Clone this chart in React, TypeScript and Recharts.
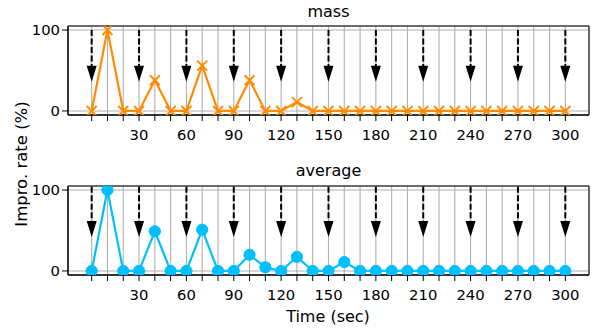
import React from 'react';
import {
  ComposedChart, Line, XAxis, YAxis, CartesianGrid, ReferenceLine, ReferenceDot, ReferenceArea,
} from 'recharts';

const times = [0, 10, 20, 30, 40, 50, 60, 70, 80, 90, 100, 110, 120, 130, 140, 150, 160, 170, 180, 190, 200, 210, 220, 230, 240, 250, 260, 270, 280, 290, 300];
const massValues = [0, 100, 0, 0, 38, 0, 0, 56, 0, 0, 38, 0, 0, 11, 0, 0, 0, 0, 0, 0, 0, 0, 0, 0, 0, 0, 0, 0, 0, 0, 0];
const averageValues = [0, 100, 0, 0, 49, 0, 0, 51, 0, 0, 20, 4.5, 0, 17.5, 0, 0, 11, 0, 0, 0, 0, 0, 0, 0, 0, 0, 0, 0, 0, 0, 0];
const arrowTimes = [0, 30, 60, 90, 120, 150, 180, 210, 240, 270, 300];
const labeledTicks = [30, 60, 90, 120, 150, 180, 210, 240, 270, 300];
const yTicks = [0, 100];
const panelTitles = ['mass', 'average'];
const xLabel = 'Time (sec)';
const yLabel = 'Impro. rate (%)';

const FONT = 'DejaVu Sans';
const ORANGE = '#ff8c00';
const BLUE = '#00bfff';
const GRID = '#b0b0b0';

const XDOMAIN: [number, number] = [-15, 315];
const YDOMAIN: [number, number] = [-5, 105];

const XMarker = (props: any) => {
  const { cx, cy } = props;
  if (cx == null || cy == null) return null;
  const s = 5;
  return (
    <g>
      <line x1={cx - s} y1={cy - s} x2={cx + s} y2={cy + s} stroke={ORANGE} strokeWidth={1.9} />
      <line x1={cx - s} y1={cy + s} x2={cx + s} y2={cy - s} stroke={ORANGE} strokeWidth={1.9} />
    </g>
  );
};

const CircleMarker = (props: any) => {
  const { cx, cy } = props;
  if (cx == null || cy == null) return null;
  return <circle cx={cx} cy={cy} r={5.6} fill={BLUE} stroke={BLUE} />;
};

const ArrowHead = (props: any) => {
  const { cx, cy } = props;
  if (cx == null || cy == null) return null;
  return <polygon points={`${cx - 5},${cy - 16} ${cx + 5},${cy - 16} ${cx},${cy}`} fill="#000" />;
};

const tickFmt = (v: number) => (labeledTicks.includes(v) ? String(v) : '');

function Panel({ values, kind, top, height, marginTop, marginBottom, arrowStart, arrowShaftEnd, arrowTip }: any) {
  const data = times.map((t, i) => ({ t, v: values[i] }));
  return (
    <div style={{ position: 'absolute', left: 0, top, width: 592, height }}>
      <ComposedChart width={592} height={height} data={data} margin={{ top: marginTop, right: 3, left: 0, bottom: marginBottom }}>
        <CartesianGrid stroke={GRID} strokeWidth={1.1} vertical horizontal />
        <XAxis
          dataKey="t"
          type="number"
          domain={XDOMAIN}
          ticks={times}
          tickFormatter={tickFmt}
          interval={0}
          height={30}
          tickSize={6}
          tickMargin={8}
          axisLine={{ stroke: '#000' }}
          tickLine={{ stroke: '#000' }}
          tick={{ fontSize: 14.8, fill: '#000', fontFamily: FONT }}
          allowDataOverflow
        />
        <YAxis
          type="number"
          domain={YDOMAIN}
          ticks={yTicks}
          width={68}
          tickSize={6}
          tickMargin={2}
          axisLine={{ stroke: '#000' }}
          tickLine={{ stroke: '#000' }}
          tick={{ fontSize: 14.8, fill: '#000', fontFamily: FONT }}
          allowDataOverflow
        />
        {arrowTimes.map((t) => (
          <ReferenceLine
            key={'s' + t}
            segment={[{ x: t, y: arrowStart }, { x: t, y: arrowShaftEnd }]}
            stroke="#000"
            strokeWidth={2}
            strokeDasharray="6 2.5"
            ifOverflow="visible"
          />
        ))}
        {arrowTimes.map((t) => (
          <ReferenceDot key={'h' + t} x={t} y={arrowTip} r={0} shape={ArrowHead} ifOverflow="visible" />
        ))}
        <Line
          dataKey="v"
          stroke={kind === 'x' ? ORANGE : BLUE}
          strokeWidth={2.2}
          dot={kind === 'x' ? <XMarker /> : <CircleMarker />}
          activeDot={false}
          isAnimationActive={false}
        />
        <ReferenceArea x1={XDOMAIN[0]} x2={XDOMAIN[1]} y1={YDOMAIN[0]} y2={YDOMAIN[1]} fill="none" fillOpacity={0} stroke="#000" strokeWidth={1} ifOverflow="visible" />
      </ComposedChart>
    </div>
  );
}

export default function App() {
  return (
    <div style={{ position: 'absolute', left: 0, top: 0, width: 592, height: 328, background: '#fff', overflow: 'hidden' }}>
      <Panel values={massValues} kind="x" top={0} height={150} marginTop={26} marginBottom={5} arrowStart={100} arrowShaftEnd={52} arrowTip={36} />
      <Panel values={averageValues} kind="o" top={150} height={160} marginTop={36} marginBottom={5} arrowStart={104} arrowShaftEnd={58} arrowTip={42} />
      <svg width={592} height={328} style={{ position: 'absolute', left: 0, top: 0, pointerEvents: 'none' }}>
        <text x={328.5} y={17} textAnchor="middle" fontFamily={FONT} fontSize={16} fill="#000">{panelTitles[0]}</text>
        <text x={328.5} y={176} textAnchor="middle" fontFamily={FONT} fontSize={16} fill="#000">{panelTitles[1]}</text>
        <text x={328} y={322} textAnchor="middle" fontFamily={FONT} fontSize={16} fill="#000">{xLabel}</text>
        <text transform="translate(27,164) rotate(-90)" textAnchor="middle" fontFamily={FONT} fontSize={16.5} fill="#000">{yLabel}</text>
      </svg>
    </div>
  );
}
